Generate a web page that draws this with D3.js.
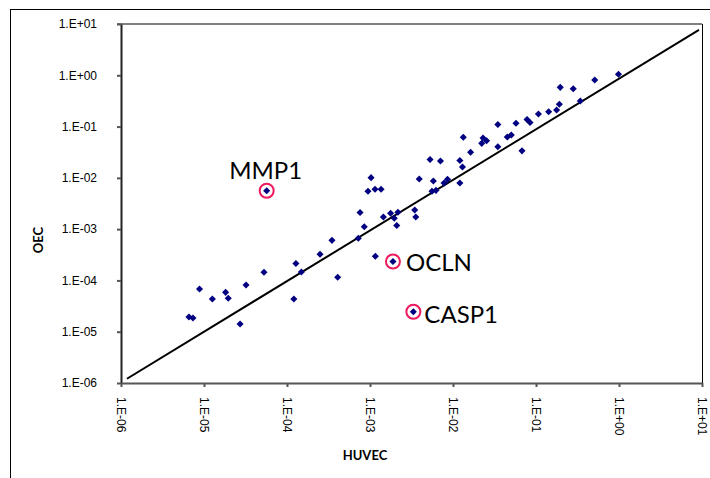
<!DOCTYPE html>
<html>
<head>
<meta charset="utf-8">
<script src="https://cdn.jsdelivr.net/npm/d3@7"></script>
<style>
  body { margin: 0; background: #fff; }
  svg { display: block; font-family: Lato, "Open Sans", sans-serif; }
  .tick text { font-size: 12px; fill: #000; }
</style>
</head>
<body>
<svg id="chart" width="710" height="478"></svg>
<script>
// expression values, HUVEC (x) vs OEC (y)
const huvec = [6.59e-6, 7.36e-6, 8.83e-6, 1.26e-5, 1.82e-5, 1.96e-5, 2.72e-5, 3.21e-5, 5.28e-5, 1.21e-4,
  1.28e-4, 1.49e-4, 2.50e-4, 3.48e-4, 4.08e-4, 7.23e-4, 7.59e-4, 8.53e-4, 9.46e-4, 1.03e-3,
  1.15e-3, 1.36e-3, 1.16e-3, 1.45e-3, 1.77e-3, 1.96e-3, 2.17e-3, 2.10e-3, 3.46e-3, 3.56e-3,
  3.92e-3, 5.29e-3, 7.06e-3, 5.80e-3, 5.58e-3, 6.24e-3, 7.80e-3, 8.59e-3, 1.21e-2, 1.30e-2,
  1.21e-2, 1.33e-2, 1.63e-2, 2.22e-2, 2.30e-2, 2.54e-2, 3.47e-2, 3.47e-2, 4.51e-2, 5.04e-2,
  5.74e-2, 6.78e-2, 7.80e-2, 8.47e-2, 0.107, 0.142, 0.177, 0.191, 0.196, 0.281,
  0.342, 0.510, 0.986];
const oec = [1.94e-5, 1.85e-5, 6.81e-5, 4.35e-5, 5.86e-5, 4.48e-5, 1.41e-5, 8.15e-5, 1.44e-4, 4.35e-5,
  2.14e-4, 1.46e-4, 3.23e-4, 6.05e-4, 1.15e-4, 6.62e-4, 2.11e-3, 1.11e-3, 5.47e-3, 1.01e-2,
  5.98e-3, 5.98e-3, 2.96e-4, 1.72e-3, 2.04e-3, 1.63e-3, 2.13e-3, 1.18e-3, 2.36e-3, 1.72e-3,
  9.48e-3, 2.28e-2, 2.13e-2, 8.67e-3, 5.47e-3, 5.71e-3, 7.92e-3, 9.35e-3, 2.18e-2, 1.63e-2,
  7.92e-3, 6.17e-2, 3.16e-2, 4.71e-2, 5.98e-2, 5.30e-2, 0.110, 4.03e-2, 6.25e-2, 6.84e-2,
  0.116, 3.36e-2, 0.137, 0.120, 0.176, 0.194, 0.210, 0.272, 0.582, 0.547,
  0.315, 0.809, 1.05];

// highlighted genes
const geneNames = ["MMP1", "OCLN", "CASP1"];
const geneHuvec = [5.69e-5, 1.89e-3, 3.33e-3];
const geneOec = [5.61e-3, 2.34e-4, 2.45e-5];

// reference line end points
const lineX = [1.18e-6, 9.2];
const lineY = [1.21e-6, 7.7];

const tickValues = [1e-6, 1e-5, 1e-4, 1e-3, 1e-2, 1e-1, 1e0, 1e1];

const svg = d3.select("#chart");
const mLeft = 121, mRight = 702, mTop = 24, mBottom = 383;

const x = d3.scaleLog().domain([1e-6, 10]).range([mLeft, mRight]);
const y = d3.scaleLog().domain([1e-6, 10]).range([mBottom, mTop]);

function fmt(d) {
  const e = Math.round(Math.log10(d));
  const s = e < 0 ? "-" : "+";
  return "1.E" + s + String(Math.abs(e)).padStart(2, "0");
}

// outer frame
svg.append("rect").attr("x", 10.5).attr("y", 9.5).attr("width", 720).attr("height", 500)
  .attr("fill", "none").attr("stroke", "#000").attr("stroke-width", 1);

// plot area border
svg.append("line").attr("x1", mLeft - 4).attr("x2", mRight).attr("y1", mTop).attr("y2", mTop)
  .attr("stroke", "#808080").attr("stroke-width", 2);
svg.append("line").attr("x1", mRight + 0.5).attr("x2", mRight + 0.5).attr("y1", mTop).attr("y2", mBottom)
  .attr("stroke", "#000").attr("stroke-width", 1);

// axes
const yAxis = svg.append("g").attr("transform", "translate(" + mLeft + ",0)")
  .call(d3.axisLeft(y).tickValues(tickValues).tickFormat(fmt).tickSize(4).tickPadding(20).tickSizeOuter(0));
yAxis.select(".domain").attr("stroke", "#222").attr("stroke-width", 2);
yAxis.selectAll(".tick line").attr("stroke", "#555").attr("stroke-width", 2);

const xAxis = svg.append("g").attr("transform", "translate(0," + mBottom + ")")
  .call(d3.axisBottom(x).tickValues(tickValues).tickFormat(fmt).tickSize(4).tickSizeOuter(0));
xAxis.select(".domain").attr("stroke", "#555").attr("stroke-width", 2);
xAxis.selectAll(".tick line").attr("stroke", "#555").attr("stroke-width", 2);
xAxis.selectAll(".tick text")
  .attr("transform", "rotate(90)")
  .attr("text-anchor", "start")
  .attr("x", 14).attr("y", 0).attr("dy", "0.35em");

// axis titles
svg.append("text").attr("x", 365).attr("y", 460).attr("text-anchor", "middle")
  .attr("font-weight", "bold").attr("font-size", 13).text("HUVEC");
svg.append("text").attr("transform", "translate(43,240) rotate(-90)").attr("text-anchor", "middle")
  .attr("font-weight", "bold").attr("font-size", 13).text("OEC");

// diagonal line
svg.append("line")
  .attr("x1", x(lineX[0])).attr("y1", y(lineY[0]))
  .attr("x2", x(lineX[1])).attr("y2", y(lineY[1]))
  .attr("stroke", "#000").attr("stroke-width", 2);

const diamond = d3.symbol().type(d3.symbolDiamond2).size(32);

svg.append("g").selectAll("path")
  .data(huvec.map((h, i) => [h, oec[i]]))
  .join("path")
  .attr("d", diamond)
  .attr("transform", d => "translate(" + x(d[0]) + "," + y(d[1]) + ")")
  .attr("fill", "#000080");

const genes = geneNames.map((n, i) => ({ name: n, h: geneHuvec[i], o: geneOec[i] }));
// label placement relative to the point
const labelPos = { MMP1: [-1, -12, "middle"], OCLN: [13, 10, "start"], CASP1: [11, 11, "start"] };

const g = svg.append("g").selectAll("g").data(genes).join("g")
  .attr("transform", d => "translate(" + x(d.h) + "," + y(d.o) + ")");
g.append("path").attr("d", diamond).attr("fill", "#000080");
g.append("circle").attr("r", 7).attr("fill", "none").attr("stroke", "#ee1a5e").attr("stroke-width", 2);
g.append("text")
  .attr("x", d => labelPos[d.name][0])
  .attr("y", d => labelPos[d.name][1])
  .attr("text-anchor", d => labelPos[d.name][2])
  .attr("font-size", 24)
  .text(d => d.name);
</script>
</body>
</html>
